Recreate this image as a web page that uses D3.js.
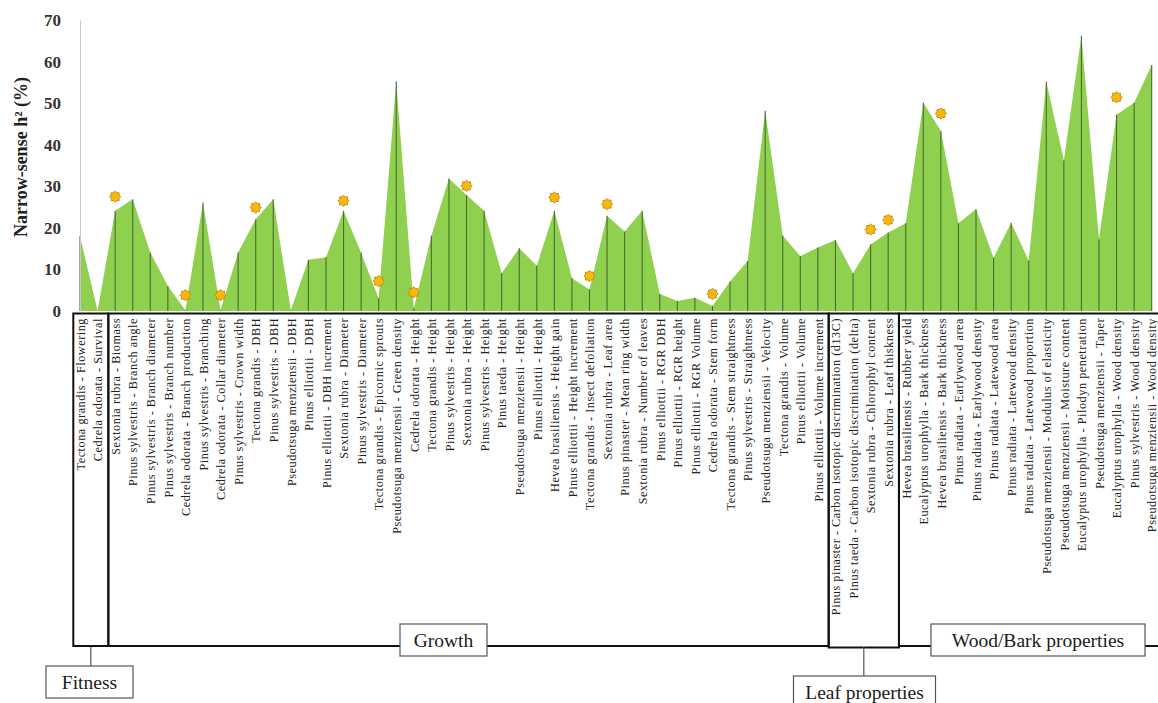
<!DOCTYPE html>
<html>
<head>
<meta charset="utf-8">
<script src="https://cdn.jsdelivr.net/npm/d3@7"></script>
<style>
  body { margin: 0; background: #fff; }
  svg { display: block; font-family: "Liberation Serif", "DejaVu Serif", serif; }
</style>
</head>
<body>
<svg id="chart" width="1158" height="703"></svg>
<script>
const traits = [
    "Tectona grandis - Flowering", "Cedrela odorata - Survival",
    "Sextonia rubra - Biomass", "Pinus sylvestris - Branch angle",
    "Pinus sylvestris - Branch diameter", "Pinus sylvestris - Branch number",
    "Cedrela odorata - Branch production", "Pinus sylvestris - Branching",
    "Cedrela odorata - Collar diameter", "Pinus sylvestris - Crown width",
    "Tectona grandis - DBH", "Pinus sylvestris - DBH",
    "Pseudotsuga menziensii - DBH", "Pinus elliottii - DBH",
    "Pinus elliottii - DBH increment", "Sextonia rubra - Diameter",
    "Pinus sylvestris - Diameter", "Tectona grandis - Epicornic sprouts",
    "Pseudotsuga menziensii - Green density", "Cedrela odorata - Height",
    "Tectona grandis - Height", "Pinus sylvestris - Height",
    "Sextonia rubra - Height", "Pinus sylvestris - Height",
    "Pinus taeda - Height", "Pseudotsuga menziensii - Height",
    "Pinus elliottii - Height", "Hevea brasiliensis - Height gain",
    "Pinus elliottii - Height increment", "Tectona grandis - Insect defoliation",
    "Sextonia rubra - Leaf area", "Pinus pinaster - Mean ring width",
    "Sextonia rubra - Number of leaves", "Pinus elliottii - RGR DBH",
    "Pinus elliottii - RGR height", "Pinus elliottii - RGR Volume",
    "Cedrela odorata - Stem form", "Tectona grandis - Stem straightness",
    "Pinus sylvestris - Straightness", "Pseudotsuga menziensii - Velocity",
    "Tectona grandis - Volume", "Pinus elliottii - Volume",
    "Pinus elliottii - Volume increment",
    "Pinus pinaster - Carbon isotopic discrimination (d13C)",
    "Pinus taeda - Carbon isotopic discrimination (delta)",
    "Sextonia rubra - Chlorophyl content", "Sextonia rubra - Leaf thiskness",
    "Hevea brasiliensis - Rubber yield", "Eucalyptus urophylla - Bark thickness",
    "Hevea brasiliensis - Bark thickness", "Pinus radiata - Earlywood area",
    "Pinus radiata - Earlywood density", "Pinus radiata - Latewood area",
    "Pinus radiata - Latewood density", "Pinus radiata - Latewood proportion",
    "Pseudotsuga menziensii - Modulus of elasticity",
    "Pseudotsuga menziensii - Moisture content",
    "Eucalyptus urophylla - Pilodyn penetration",
    "Pseudotsuga menziensii - Taper", "Eucalyptus urophylla - Wood density",
    "Pinus sylvestris - Wood density", "Pseudotsuga menziensii - Wood density"
];

const heritability = [
    18, 0, 24.1, 26.9, 14.1, 6, 0.2, 26.1, 0.2, 14.1,
    22.1, 26.9, 0.2, 12.3, 12.9, 24.1, 14, 3, 55.2, 0.6,
    18.1, 31.9, 27.9, 24.1, 9.1, 15.1, 10.9, 24.1, 7.9, 5.2,
    22.9, 19.1, 24.1, 4.1, 2.4, 3.2, 1.2, 7.1, 12, 48.2,
    18.1, 13.2, 15.3, 17.1, 9.1, 16, 18.9, 21.1, 50.1, 43.3,
    21.1, 24.5, 12.8, 21.2, 12.1, 55.2, 36.2, 66.2, 17.2, 47.2,
    50.1, 59.2
];

// star markers: trait index -> marker height
const starIndex = [2, 6, 8, 10, 15, 17, 19, 22, 27, 29, 30, 36, 45, 46, 49, 59];
const starValue = [27.5, 3.8, 3.8, 24.9, 26.5, 7.2, 4.5, 30.1, 27.3, 8.4, 25.7, 4.1, 19.6, 21.9, 47.5, 51.4];

const groupNames = ["Fitness", "Growth", "Leaf properties", "Wood/Bark properties"];
const groupStart = [0, 2, 43, 47];
const groupEnd = [1, 42, 46, 61];

const yTicks = [0, 10, 20, 30, 40, 50, 60, 70];

const svg = d3.select("#chart");

const x = d3.scalePoint().domain(d3.range(traits.length)).range([80, 1151.7]);
const y = d3.scaleLinear().domain([0, 70]).range([311, 20]);

// area
const area = d3.area()
    .x((d, i) => x(i))
    .y0(y(0))
    .y1((d) => y(d));

svg.append("path")
    .datum(heritability)
    .attr("d", area)
    .attr("fill", "#8fd04f");

svg.append("g")
    .selectAll("line")
    .data(heritability)
    .join("line")
    .attr("x1", (d, i) => x(i))
    .attr("x2", (d, i) => x(i))
    .attr("y1", (d) => y(d))
    .attr("y2", y(0))
    .attr("stroke", "#4b6a35")
    .attr("stroke-width", 1.1);

// y axis
const yAxis = svg.append("g")
    .attr("transform", "translate(80,0)")
    .call(d3.axisLeft(y).tickValues(yTicks).tickSize(0).tickPadding(19));
yAxis.select(".domain").attr("stroke", "#c8c8c8").attr("stroke-width", 1);
yAxis.selectAll("text")
    .attr("font-family", "Liberation Serif, serif")
    .attr("font-size", 17)
    .attr("font-weight", "bold")
    .attr("fill", "#333");

svg.append("text")
    .attr("transform", "translate(27,157) rotate(-90)")
    .attr("text-anchor", "middle")
    .attr("font-size", 18)
    .attr("font-weight", "bold")
    .attr("fill", "#222")
    .text("Narrow-sense h² (%)");

// stars
function starPath(r1, r2, n) {
    const pts = [];
    for (let k = 0; k < n * 2; k++) {
        const r = k % 2 === 0 ? r1 : r2;
        const a = Math.PI * k / n - Math.PI / 2;
        pts.push([r * Math.cos(a), r * Math.sin(a)]);
    }
    return d3.line()(pts) + "Z";
}
svg.append("g")
    .selectAll("path")
    .data(starIndex)
    .join("path")
    .attr("d", starPath(5.6, 4.3, 8))
    .attr("transform", (d, k) => `translate(${x(d)},${y(starValue[k])})`)
    .attr("fill", "#f6b80c")
    .attr("stroke", "#c7870a")
    .attr("stroke-width", 0.9);

// category labels
svg.append("g")
    .selectAll("text")
    .data(traits)
    .join("text")
    .attr("transform", (d, i) => `translate(${x(i) + 0.5},318) rotate(-90)`)
    .attr("text-anchor", "end")
    .attr("dy", "0.35em")
    .attr("font-size", 12.2)
    .attr("letter-spacing", 0.55)
    .attr("fill", "#222")
    .text((d) => d);

// group boxes
const edgeLeft = (g) => groupStart[g] === 0 ? x(0) - 6.7 : (x(groupStart[g] - 1) + x(groupStart[g])) / 2 + 2;
const edgeRight = (g) => groupEnd[g] === traits.length - 1 ? 1160 : (x(groupEnd[g]) + x(groupEnd[g] + 1)) / 2 + 2;

const boxes = svg.append("g").attr("fill", "none").attr("stroke", "#111").attr("stroke-width", 2);
groupNames.forEach((name, g) => {
    const bottom = name === "Leaf properties" ? 647.5 : 646;
    boxes.append("rect")
        .attr("x", edgeLeft(g))
        .attr("y", 313.5)
        .attr("width", edgeRight(g) - edgeLeft(g))
        .attr("height", bottom - 313.5);
});

// group name tags
const tagLayout = {
    "Fitness": { cx: 89.5, top: 666, w: 87, h: 32, stem: true },
    "Growth": { cx: 443.5, top: 624, w: 87, h: 32, stem: false },
    "Leaf properties": { cx: 864.5, top: 676, w: 142, h: 34, stem: true },
    "Wood/Bark properties": { cx: 1038, top: 624, w: 214, h: 32, stem: false }
};
const tags = svg.append("g");
groupNames.forEach((name, g) => {
    const t = tagLayout[name];
    const stemX = (edgeLeft(g) + edgeRight(g)) / 2;
    if (t.stem) {
        tags.append("line")
            .attr("x1", stemX).attr("x2", stemX)
            .attr("y1", 647).attr("y2", t.top)
            .attr("stroke", "#555").attr("stroke-width", 1.2);
    }
    tags.append("rect")
        .attr("x", t.cx - t.w / 2).attr("y", t.top)
        .attr("width", t.w).attr("height", t.h)
        .attr("fill", "#fff").attr("stroke", "#555").attr("stroke-width", 1.2);
    tags.append("text")
        .attr("x", t.cx).attr("y", t.top + 16)
        .attr("dy", "0.35em")
        .attr("text-anchor", "middle")
        .attr("font-size", 19.5)
        .attr("fill", "#1a1a1a")
        .text(name);
});
</script>
</body>
</html>
